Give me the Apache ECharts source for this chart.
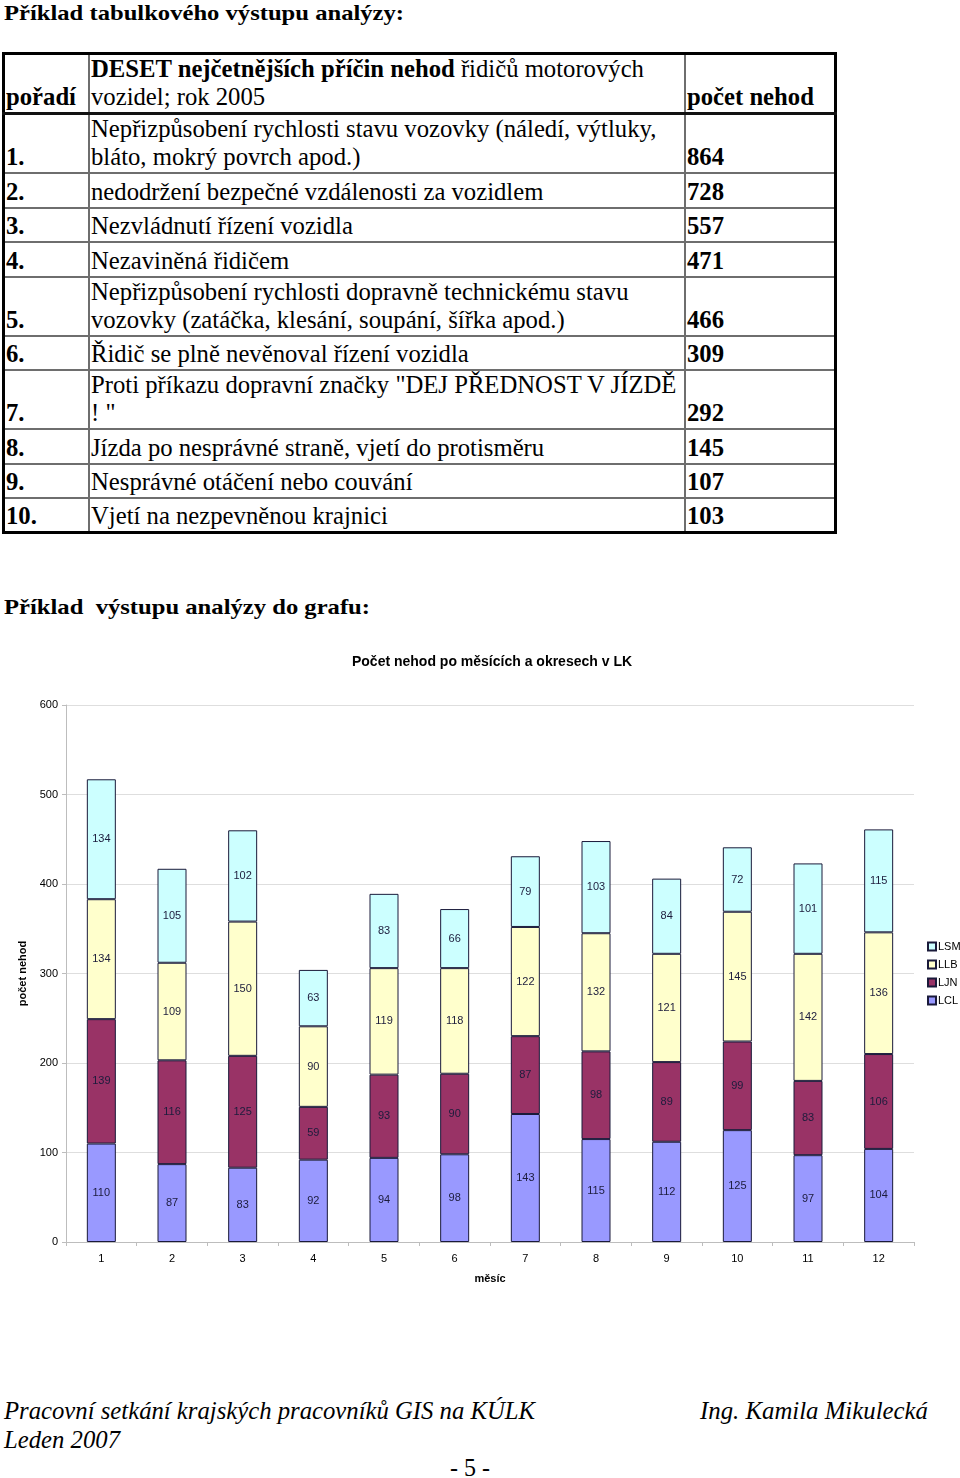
<!DOCTYPE html>
<html><head><meta charset="utf-8">
<script src="https://cdn.jsdelivr.net/npm/echarts@6/dist/echarts.min.js"></script>
<style>
html,body{margin:0;padding:0;background:#fff}
body{width:960px;height:1478px;position:relative;overflow:hidden;font-family:"Liberation Serif","Times New Roman",serif;color:#000}
.abs{position:absolute;white-space:nowrap;display:inline-block;transform-origin:0 0}
.h{font-weight:bold;font-size:22px;line-height:24px}
table{position:absolute;left:2px;top:52px;border-collapse:collapse;border:3px solid #000}
td{border:2px solid #6e6e6e;padding:0 1px 1px 1px;vertical-align:bottom;font-size:24.7px;line-height:28px;white-space:pre;overflow:hidden}
tr.hd td{border-bottom:3px solid #111}
.b{font-weight:bold}
.foot{font-style:italic;font-size:25px;line-height:28px}
#chart{position:absolute;left:0;top:640px;width:960px;height:660px}
</style>
</head><body>
<div class="abs h" id="t1" style="left:4px;top:1px">Příklad tabulkového výstupu analýzy:</div>
<table id="tbl"><tbody id="tb"></tbody></table>
<div class="abs h" id="t2" style="left:4px;top:595px">Příklad&nbsp; výstupu analýzy do grafu:</div>
<div id="chart"></div>
<div class="abs foot" id="f1" style="left:4px;top:1397px">Pracovní setkání krajských pracovníků GIS na KÚLK</div>
<div class="abs foot" id="f2" style="left:4px;top:1426px">Leden 2007</div>
<div class="abs foot" id="f3" style="left:700px;top:1397px">Ing. Kamila Mikulecká</div>
<div class="abs" id="f4" style="left:450px;top:1453px;font-size:26px;line-height:29px">- 5 -</div>
<script>
// ---- table data ----
const tableHeader = ['pořadí', 'DESET nejčetnějších příčin nehod', ' řidičů motorových\nvozidel; rok 2005', 'počet nehod'];
const ranks = ['1.', '2.', '3.', '4.', '5.', '6.', '7.', '8.', '9.', '10.'];
const causes = [
  'Nepřizpůsobení rychlosti stavu vozovky (náledí, výtluky,\nbláto, mokrý povrch apod.)',
  'nedodržení bezpečné vzdálenosti za vozidlem',
  'Nezvládnutí řízení vozidla',
  'Nezaviněná řidičem',
  'Nepřizpůsobení rychlosti dopravně technickému stavu\nvozovky (zatáčka, klesání, soupání, šířka apod.)',
  'Řidič se plně nevěnoval řízení vozidla',
  'Proti příkazu dopravní značky "DEJ PŘEDNOST V JÍZDĚ\n! "',
  'Jízda po nesprávné straně, vjetí do protisměru',
  'Nesprávné otáčení nebo couvání',
  'Vjetí na nezpevněnou krajnici'
];
const counts = [864, 728, 557, 471, 466, 309, 292, 145, 107, 103];

// ---- chart data ----
const chartTitle = 'Počet nehod po měsících a okresech v LK';
const months = ['1', '2', '3', '4', '5', '6', '7', '8', '9', '10', '11', '12'];
const LCL = [110, 87, 83, 92, 94, 98, 143, 115, 112, 125, 97, 104];
const LJN = [139, 116, 125, 59, 93, 90, 87, 98, 89, 99, 83, 106];
const LLB = [134, 109, 150, 90, 119, 118, 122, 132, 121, 145, 142, 136];
const LSM = [134, 105, 102, 63, 83, 66, 79, 103, 84, 72, 101, 115];
const yTicks = [0, 100, 200, 300, 400, 500, 600];

// build table
const tb = document.getElementById('tb');
function esc(s){return s.replace(/&/g,'&amp;').replace(/</g,'&lt;');}
let html = '<tr class="hd" style="height:60px"><td class="b" style="width:81px">' + esc(tableHeader[0]) +
  '</td><td style="width:592px"><b>' + esc(tableHeader[1]) + '</b>' + esc(tableHeader[2]) +
  '</td><td class="b" style="width:146px">' + esc(tableHeader[3]) + '</td></tr>';
for (let i = 0; i < ranks.length; i++) {
  const two = causes[i].indexOf('\n') >= 0;
  html += '<tr style="height:' + (two ? 59 : 34.5) + 'px"><td class="b">' + ranks[i] + '</td><td>' + esc(causes[i]) +
    '</td><td class="b">' + counts[i] + '</td></tr>';
}
tb.innerHTML = html;

// horizontal fit of condensed texts
function fit(id, w){
  const el = document.getElementById(id);
  const r = el.getBoundingClientRect().width;
  el.style.transform = 'scaleX(' + (w / r) + ')';
}
fit('t1', 400); fit('t2', 366);
fit('f1', 531); fit('f2', 116); fit('f3', 228); fit('f4', 40);

// chart
const colors = {LCL:'#9999ff', LJN:'#993366', LLB:'#ffffcc', LSM:'#ccffff'};
const seriesDefs = [['LCL', LCL], ['LJN', LJN], ['LLB', LLB], ['LSM', LSM]];
const chart = echarts.init(document.getElementById('chart'), null, {renderer:'canvas'});
const font = '"Liberation Sans", Arial, sans-serif';
chart.setOption({
  animation: false,
  textStyle: {fontFamily: font},
  title: {
    text: chartTitle, left: 487, top: 10, textAlign: 'center',
    textStyle: {fontFamily: font, fontSize: 14, fontWeight: 'bold', color: '#000'}
  },
  legend: {
    data: ['LSM', 'LLB', 'LJN', 'LCL'],
    orient: 'vertical', left: 922, top: 296,
    itemWidth: 8, itemHeight: 8, itemGap: 7,
    textStyle: {fontFamily: font, fontSize: 11, color: '#000', padding: [0, 0, 0, -3]},
    icon: 'rect'
  },
  grid: {left: 66, right: 46, top: 65, bottom: 58},
  xAxis: {
    type: 'category', data: months,
    name: 'měsíc', nameLocation: 'middle', nameGap: 31,
    nameTextStyle: {fontFamily: font, fontSize: 11, fontWeight: 'bold', color: '#000'},
    axisLine: {lineStyle: {color: '#bdbdbd', width: 1}},
    axisTick: {show: true, length: 4, lineStyle: {color: '#bdbdbd'}},
    axisLabel: {fontFamily: font, fontSize: 11, color: '#000', margin: 11}
  },
  yAxis: {
    type: 'value', min: 0, max: 600, interval: 100,
    name: 'počet nehod', nameLocation: 'middle', nameGap: 32, nameRotate: 90,
    nameTextStyle: {fontFamily: font, fontSize: 11, fontWeight: 'bold', color: '#000'},
    axisLine: {show: true, lineStyle: {color: '#bdbdbd', width: 1}},
    axisTick: {show: true, length: 4, lineStyle: {color: '#bdbdbd'}},
    axisLabel: {fontFamily: font, fontSize: 11, color: '#000', margin: 8,
      formatter: v => yTicks.indexOf(v) >= 0 ? String(v) : ''},
    splitLine: {show: true, lineStyle: {color: '#dedede', width: 1}}
  },
  series: seriesDefs.map(([name, vals]) => ({
    name, type: 'bar', stack: 'all', data: vals, barWidth: 29,
    itemStyle: {color: colors[name], borderColor: '#1a1a3a', borderWidth: 1},
    label: {show: true, position: 'inside', fontFamily: font, fontSize: 11, color: '#1c1c3c'}
  }))
});
</script>
</body></html>
